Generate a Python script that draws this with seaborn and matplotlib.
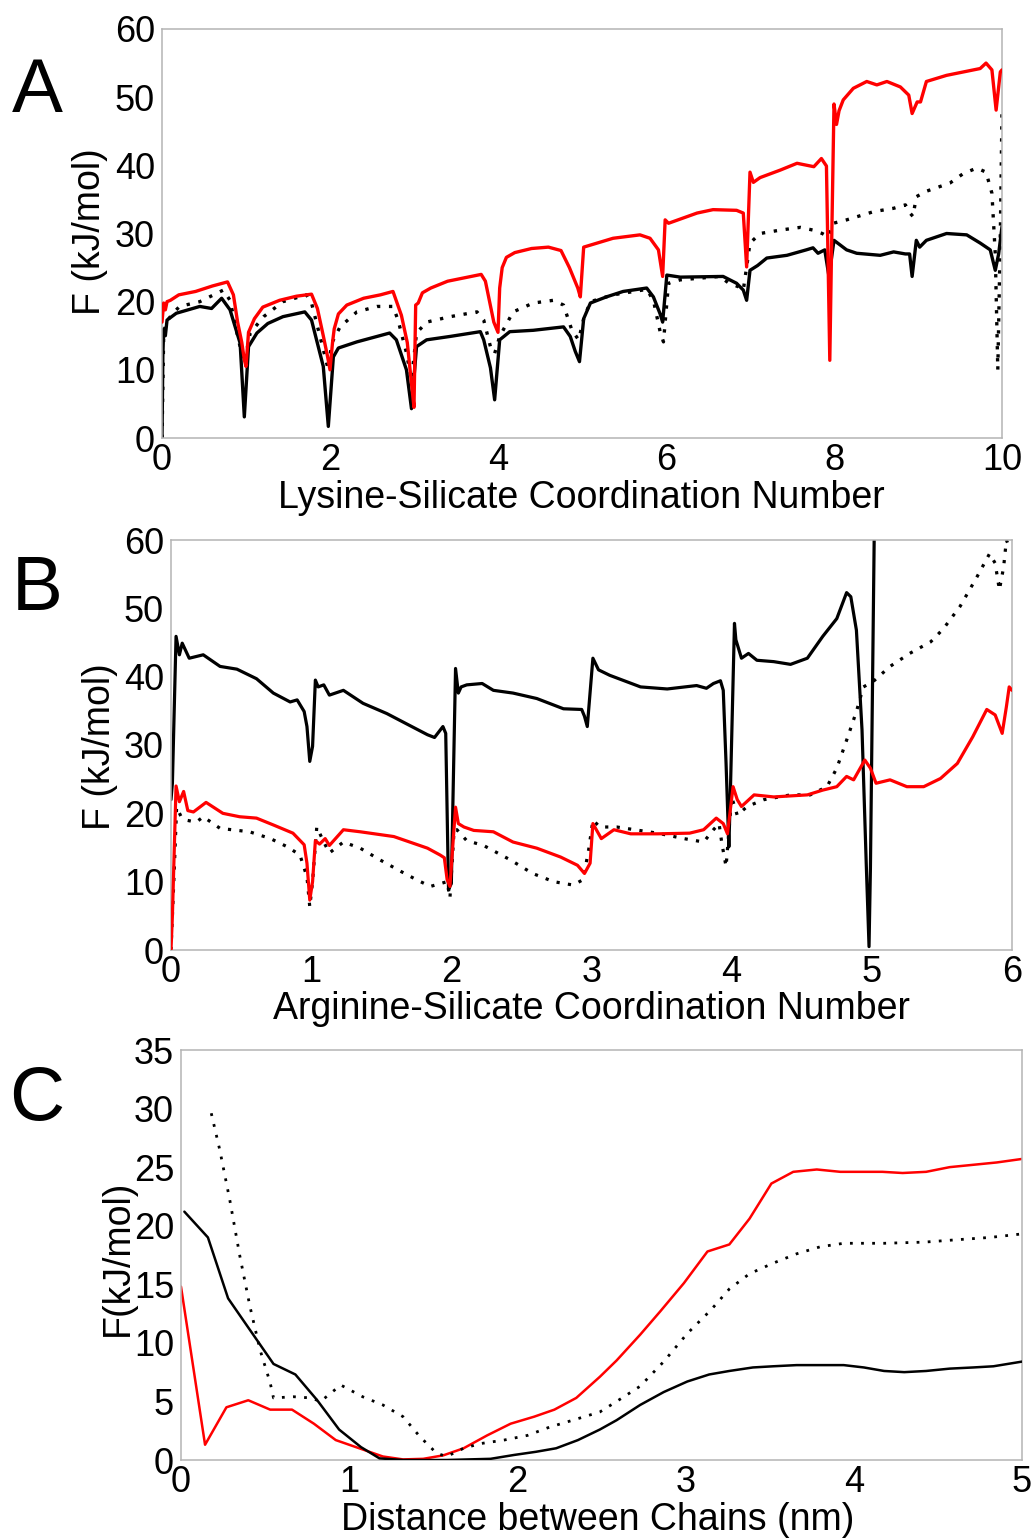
import matplotlib
matplotlib.use("Agg")
import matplotlib.pyplot as plt
import seaborn as sns

# ---------------- Panel A: Lysine-Silicate coordination ----------------
a_red_x = [0, 0.02, 0.04, 0.06, 0.1, 0.2, 0.4, 0.6, 0.78, 0.85,
           0.9, 0.95, 0.98, 1.0, 1.03, 1.1, 1.2, 1.4, 1.6, 1.78,
           1.85, 1.92, 1.97, 2.0, 2.03, 2.05, 2.1, 2.2, 2.4, 2.6,
           2.75, 2.85, 2.92, 2.97, 3.0, 3.02, 3.05, 3.1, 3.2, 3.4,
           3.6, 3.8, 3.85, 3.9, 3.95, 4.0, 4.02, 4.05, 4.1, 4.2,
           4.4, 4.6, 4.75, 4.85, 4.95, 4.98, 5.02, 5.37, 5.69, 5.81,
           5.91, 5.96, 5.99, 6.03, 6.37, 6.56, 6.84, 6.92, 6.96, 7.0,
           7.04, 7.12, 7.36, 7.56, 7.76, 7.85, 7.91, 7.95, 7.97, 8.0,
           8.03, 8.06, 8.11, 8.23, 8.39, 8.51, 8.63, 8.79, 8.89, 8.93,
           8.99, 9.03, 9.10, 9.34, 9.54, 9.74, 9.81, 9.88, 9.93, 9.98,
           10.0]
a_red_y = [17, 19.8, 18.8, 20, 20.2, 21, 21.5, 22.3, 22.9, 21,
           17, 14, 11.5, 10.5, 15.5, 17.5, 19.2, 20.2, 20.8, 21.1,
           19, 15, 12, 10, 14, 16, 18.2, 19.5, 20.5, 21,
           21.5, 18, 14, 8, 4.5, 19.5, 19.8, 21.3, 22, 23,
           23.5, 24, 23, 20, 17, 15.5, 22, 25, 26.5, 27.2,
           27.8, 28, 27.5, 25, 22, 20.7, 28, 29.3, 29.8, 29.3,
           27.6, 23.7, 32, 31.5, 33, 33.5, 33.4, 33, 25.1, 39,
           37.5, 38.2, 39.3, 40.3, 39.8, 41, 39.9, 11.4, 27, 49,
           46, 48, 49.6, 51.3, 52.3, 51.8, 52.3, 51.5, 50.3, 47.6,
           49.3, 49.3, 52.3, 53.2, 53.7, 54.2, 55, 54, 48.1, 53.7,
           54]

a_black_x = [0, 0.01, 0.02, 0.04, 0.06, 0.17, 0.45, 0.59, 0.71, 0.81,
             0.93, 0.98, 1.03, 1.13, 1.26, 1.44, 1.70, 1.78, 1.92, 1.98,
             2.04, 2.1, 2.32, 2.71, 2.79, 2.91, 2.97, 3.03, 3.15, 3.43,
             3.79, 3.83, 3.91, 3.96, 4.02, 4.14, 4.42, 4.78, 4.86, 4.92,
             4.97, 5.02, 5.1, 5.29, 5.49, 5.77, 5.85, 5.93, 5.96, 6.01,
             6.17, 6.68, 6.84, 6.92, 6.96, 7.0, 7.09, 7.20, 7.44, 7.67,
             7.75, 7.81, 7.89, 7.94, 8.0, 8.15, 8.27, 8.55, 8.71, 8.85,
             8.90, 8.93, 8.98, 9.02, 9.10, 9.34, 9.58, 9.74, 9.86, 9.92,
             9.96, 10.0]
a_black_y = [0, 12, 16, 15, 17.3, 18.3, 19.3, 19, 20.5, 18.8,
             13.9, 3.1, 13.4, 15.4, 16.8, 17.8, 18.5, 17.3, 10.5, 1.7,
             11.9, 13.2, 14.1, 15.4, 14.4, 10, 4.3, 13.4, 14.4, 14.9,
             15.6, 14.4, 10.3, 5.6, 14.4, 15.6, 15.8, 16.3, 14.9, 12.7,
             11.2, 17.5, 19.8, 20.7, 21.5, 22, 20.7, 18.2, 17, 23.9,
             23.6, 23.7, 22.7, 21.7, 20.2, 24.6, 25.3, 26.4, 26.8, 27.6,
             27.9, 27.1, 27.6, 23.7, 29, 27.6, 27.1, 26.8, 27.3, 27,
             27, 23.7, 29, 28, 29, 30, 29.8, 28.6, 27.6, 24.6,
             27, 31]

a_dot_x = [0, 0.02, 0.05, 0.13, 0.21, 0.45, 0.73, 0.81, 0.91, 0.98,
           1.05, 1.21, 1.44, 1.72, 1.78, 1.92, 1.98, 2.02, 2.12, 2.32,
           2.56, 2.75, 2.81, 2.91, 2.97, 3.03, 3.15, 3.43, 3.75, 3.83,
           3.91, 3.96, 4.02, 4.18, 4.42, 4.66, 4.78, 4.88, 4.96, 5.02,
           5.1, 5.37, 5.77, 5.85, 5.93, 5.97, 6.03, 6.17, 6.64, 6.75,
           6.86, 6.92, 6.96, 7.0, 7.12, 7.36, 7.6, 7.75, 7.86, 7.93,
           7.99, 8.15, 8.47, 8.71, 8.85, 8.89, 8.94, 8.98, 9.10, 9.38,
           9.54, 9.7, 9.81, 9.88, 9.92, 9.95, 9.98, 10.0]
a_dot_y = [0, 15, 17, 18.3, 19.3, 20, 21.7, 20.2, 14.4, 11,
           15.4, 17.8, 20, 21, 19.8, 13, 10, 13.9, 16.3, 18.5,
           19.3, 19.3, 17.3, 12.5, 8.5, 15.4, 17, 17.8, 18.5, 17.3,
           13.4, 12.4, 14.9, 18.5, 19.8, 20.2, 19.5, 15.8, 14.4, 17.5,
           20, 21, 21.8, 20.2, 15.6, 14.1, 22.7, 23.2, 23.7, 22.7,
           22.2, 21.7, 25.1, 28.6, 30, 30.5, 30.9, 30.5, 30, 29.5,
           31.5, 32, 33.2, 33.7, 34.2, 33.2, 32.5, 35.4, 36.2, 37.4,
           38.8, 39.6, 39, 35.9, 27, 10, 30, 48]

# ---------------- Panel B: Arginine-Silicate coordination ----------------
b_black_x = [0, 0.01, 0.036, 0.06, 0.08, 0.13, 0.23, 0.35, 0.47, 0.61,
             0.73, 0.85, 0.90, 0.95, 0.97, 0.99, 1.01, 1.03, 1.05, 1.09,
             1.13, 1.23, 1.37, 1.54, 1.68, 1.83, 1.88, 1.94, 1.96, 1.98,
             2.0, 2.03, 2.05, 2.07, 2.11, 2.22, 2.30, 2.44, 2.61, 2.80,
             2.93, 2.95, 2.97, 3.01, 3.05, 3.13, 3.35, 3.54, 3.75, 3.82,
             3.87, 3.92, 3.94, 3.96, 3.98, 3.99, 4.02, 4.03, 4.07, 4.12,
             4.18, 4.30, 4.42, 4.54, 4.65, 4.75, 4.82, 4.85, 4.89, 4.93,
             4.96, 4.98, 4.99, 5.02]
b_black_y = [22, 24.4, 45.9, 43.2, 44.9, 42.7, 43.2, 41.5, 41.1, 39.7,
             37.6, 36.3, 36.6, 34.9, 32.7, 27.6, 29.8, 39.5, 38.5, 38.8,
             37.3, 38, 36.1, 34.6, 33.1, 31.5, 31.1, 32.7, 31.7, 8.8,
             9.8, 41.2, 37.6, 38.5, 38.8, 39.0, 38, 37.6, 36.8, 35.3,
             35.2, 34.2, 32.7, 42.7, 41, 40.2, 38.5, 38.2, 38.7, 38.3,
             39, 39.4, 38, 27.3, 15.1, 22.4, 47.8, 45.4, 42.7, 43.4,
             42.4, 42.2, 41.8, 42.7, 45.9, 48.5, 52.3, 51.7, 46.8, 32.2,
             12.7, 0.5, 12, 66]

b_red_x = [0, 0.01, 0.036, 0.06, 0.09, 0.12, 0.16, 0.25, 0.37, 0.49,
           0.61, 0.73, 0.87, 0.95, 0.97, 0.99, 1.01, 1.03, 1.06, 1.10,
           1.13, 1.23, 1.35, 1.59, 1.83, 1.92, 1.95, 1.97, 1.99, 2.03,
           2.05, 2.09, 2.16, 2.30, 2.44, 2.61, 2.78, 2.90, 2.95, 2.99,
           3.01, 3.07, 3.16, 3.28, 3.47, 3.70, 3.80, 3.89, 3.94, 3.97,
           4.01, 4.04, 4.07, 4.16, 4.30, 4.54, 4.65, 4.75, 4.82, 4.87,
           4.95, 4.99, 5.03, 5.13, 5.25, 5.37, 5.49, 5.61, 5.72, 5.82,
           5.88, 5.93, 5.96, 5.98, 6.0]
b_red_y = [0, 5, 24, 21.7, 23.2, 20.4, 20.2, 21.6, 20, 19.5,
           19.3, 18.3, 17.1, 15.4, 12.7, 7.3, 10, 16, 15.5, 16.3,
           15.3, 17.6, 17.3, 16.6, 14.9, 13.9, 13.5, 10.3, 9.3, 20.9,
           18.5, 18, 17.5, 17.3, 15.8, 14.9, 13.6, 12.4, 11.2, 12.7,
           18.5, 16.3, 17.6, 17, 17, 17.1, 17.6, 19.3, 18.5, 17,
           23.9, 22, 21, 22.7, 22.4, 22.7, 23.4, 23.9, 25.4, 24.9,
           27.8, 26.6, 24.4, 24.9, 23.9, 23.9, 25.1, 27.3, 31.2, 35.2,
           34.4, 31.7, 35.6, 38.5, 38]

b_dot_x = [0, 0.02, 0.04, 0.07, 0.11, 0.18, 0.23, 0.35, 0.56, 0.71,
           0.83, 0.92, 0.97, 0.99, 1.01, 1.04, 1.09, 1.13, 1.23, 1.35,
           1.49, 1.64, 1.75, 1.85, 1.97, 1.99, 2.02, 2.04, 2.11, 2.23,
           2.42, 2.58, 2.73, 2.87, 2.94, 2.98, 3.01, 3.06, 3.18, 3.47,
           3.66, 3.80, 3.87, 3.91, 3.93, 3.96, 4.0, 4.04, 4.11, 4.23,
           4.42, 4.56, 4.68, 4.75, 4.82, 4.89, 4.94, 5.01, 5.13, 5.27,
           5.42, 5.51, 5.63, 5.75, 5.84, 5.88, 5.91, 5.94, 5.96, 5.99]
b_dot_y = [0, 10, 20.9, 19.6, 19, 18.7, 19.5, 17.8, 17.3, 16.3,
           15.1, 13.9, 10.7, 6.3, 10, 18, 15.8, 14.2, 15.8, 14.9,
           13.2, 11.5, 10.3, 9.3, 10, 7.6, 17.6, 17.6, 16, 15.3,
           13.2, 11.2, 10, 9.5, 10.3, 14.7, 19, 18, 18, 17.1,
           16.3, 15.8, 17.6, 18.5, 15.6, 12.2, 22.4, 19.7, 21, 22,
           22.7, 22.7, 23.9, 26.6, 30.7, 34.9, 38.5, 39.3, 41.5, 43.4,
           45.1, 47, 50.3, 54.6, 58, 56.6, 52.7, 56, 60, 58.5]

# ---------------- Panel C: distance between chains ----------------
c_red_x = [0, 0.143, 0.27, 0.40, 0.53, 0.66, 0.79, 0.92, 1.04, 1.2,
           1.32, 1.44, 1.56, 1.68, 1.82, 1.96, 2.1, 2.22, 2.35, 2.49,
           2.59, 2.73, 2.85, 2.99, 3.13, 3.26, 3.38, 3.51, 3.64, 3.78,
           3.92, 4.17, 4.29, 4.43, 4.57, 4.71, 4.85, 5.0]
c_red_y = [14.8, 1.3, 4.5, 5.1, 4.3, 4.3, 3.1, 1.7, 1.1, 0.3,
           0.05, 0.1, 0.4, 1.0, 2.1, 3.1, 3.7, 4.3, 5.3, 7.1,
           8.5, 10.7, 12.7, 15.1, 17.8, 18.4, 20.6, 23.6, 24.6, 24.8,
           24.6, 24.6, 24.5, 24.6, 25, 25.2, 25.4, 25.7]

c_black_x = [0.02, 0.16, 0.28, 0.41, 0.55, 0.68, 0.81, 0.94, 1.07, 1.18,
             1.32, 1.58, 1.84, 1.98, 2.11, 2.23, 2.36, 2.49, 2.59, 2.73,
             2.87, 3.01, 3.14, 3.26, 3.40, 3.52, 3.66, 3.80, 3.94, 4.06,
             4.18, 4.30, 4.43, 4.57, 4.71, 4.83, 5.0]
c_black_y = [21.2, 19.0, 13.8, 11.1, 8.2, 7.3, 5.1, 2.6, 1.1, 0.14,
             0, 0, 0.1, 0.43, 0.7, 1.0, 1.7, 2.6, 3.4, 4.7,
             5.8, 6.7, 7.3, 7.6, 7.9, 8.0, 8.1, 8.1, 8.1, 7.9,
             7.6, 7.5, 7.6, 7.8, 7.9, 8.0, 8.4]

c_dot_x = [0.18, 0.23, 0.29, 0.35, 0.41, 0.47, 0.53, 0.55, 0.67, 0.77,
           0.83, 0.95, 1.08, 1.2, 1.32, 1.42, 1.52, 1.58, 1.68, 1.78,
           1.92, 2.06, 2.19, 2.33, 2.49, 2.59, 2.73, 2.87, 3.01, 3.15,
           3.26, 3.38, 3.52, 3.66, 3.80, 3.94, 4.18, 4.42, 4.61, 4.81,
           5.0]
c_dot_y = [29.6, 26.5, 22.2, 17.4, 13.1, 9.4, 6.6, 5.3, 5.4, 5.3,
           5.0, 6.4, 5.4, 4.7, 3.7, 2.0, 0.57, 0.3, 1.0, 1.4,
           1.7, 2.1, 2.8, 3.4, 4.1, 5.0, 6.3, 8.4, 10.8, 12.8,
           14.6, 15.9, 16.8, 17.6, 18.2, 18.5, 18.5, 18.6, 18.8, 19.0,
           19.3]

# ---------------- Text ----------------
panel_letters = ["A", "B", "C"]
x_labels = ["Lysine-Silicate Coordination Number",
            "Arginine-Silicate Coordination Number",
            "Distance between Chains (nm)"]
y_labels = ["F (kJ/mol)", "F (kJ/mol)", "F(kJ/mol)"]
a_xticks = [0, 2, 4, 6, 8, 10]
a_yticks = [0, 10, 20, 30, 40, 50, 60]
b_xticks = [0, 1, 2, 3, 4, 5, 6]
b_yticks = [0, 10, 20, 30, 40, 50, 60]
c_xticks = [0, 1, 2, 3, 4, 5]
c_yticks = [0, 5, 10, 15, 20, 25, 30, 35]

# ---------------- Style ----------------
sns.set_theme(style="white")
plt.rcParams["font.family"] = ["Liberation Sans", "DejaVu Sans"]

W, H = 1036, 1539
fig = plt.figure(figsize=(W / 100, H / 100), dpi=100)


def rect(l, t, r, b):
    return [l / W, 1 - b / H, (r - l) / W, (b - t) / H]


ax_a = fig.add_axes(rect(162, 29, 1002, 438))
ax_b = fig.add_axes(rect(171, 540, 1012, 950))
ax_c = fig.add_axes(rect(181, 1050, 1022, 1460))

dots_a = (0, (1, 2.6))
dots_c = (0, (1, 3.0))


def draw(ax, x, y, color, lw, ls="-", z=2):
    sns.lineplot(x=x, y=y, ax=ax, color=color, linewidth=lw, linestyle=ls,
                 estimator=None, sort=False, zorder=z)


draw(ax_a, a_black_x, a_black_y, "black", 2.4)
draw(ax_a, a_dot_x, a_dot_y, "black", 2.4, dots_a)
draw(ax_a, a_red_x, a_red_y, "#ff0000", 2.4, z=3)

draw(ax_b, b_black_x, b_black_y, "black", 2.3)
draw(ax_b, b_dot_x, b_dot_y, "black", 2.3, dots_a)
draw(ax_b, b_red_x, b_red_y, "#ff0000", 2.3, z=3)

draw(ax_c, c_red_x, c_red_y, "#ff0000", 1.8)
draw(ax_c, c_dot_x, c_dot_y, "black", 2.0, dots_c)
draw(ax_c, c_black_x, c_black_y, "black", 1.8, z=3)

setup = [
    (ax_a, (0, 10), (0, 60), a_xticks, a_yticks),
    (ax_b, (0, 6), (0, 60), b_xticks, b_yticks),
    (ax_c, (0, 5), (0, 35), c_xticks, c_yticks),
]
for ax, xl, yl, xt, yt in setup:
    ax.set_xlim(*xl)
    ax.set_ylim(*yl)
    ax.set_xticks(xt)
    ax.set_yticks(yt)
    ax.set_xticklabels([str(v) for v in xt])
    ax.set_yticklabels([str(v) for v in yt])
    for sp in ax.spines.values():
        sp.set_color("#b4b4b4")
        sp.set_linewidth(1.1)
    ax.tick_params(axis="both", direction="out", length=2.5, width=1,
                   color="#a0a0a0", labelsize=26, labelcolor="black")
    ax.tick_params(axis="x", pad=1)
    ax.tick_params(axis="y", pad=2.5)
    ax.grid(False)

# axis labels (positions in figure pixels)
xlab_pos = [(581.5, 508), (591, 1019), (597.5, 1530)]
ylab_pos = [(90, 232), (100, 747), (118, 1258)]
for ax, xt, yt, (xx, xy), (yx, yy) in zip([ax_a, ax_b, ax_c], x_labels, y_labels,
                                          xlab_pos, ylab_pos):
    ax.set_xlabel(xt, fontsize=27, color="black")
    ax.xaxis.set_label_coords(xx / W, 1 - xy / H, transform=fig.transFigure)
    ax.xaxis.label.set_va("baseline")
    ax.set_ylabel(yt, fontsize=27, color="black")
    ax.yaxis.set_label_coords(yx / W, 1 - yy / H, transform=fig.transFigure)
    ax.yaxis.label.set_va("center")
    ax.yaxis.label.set_ha("center")

letter_pos = [(37, 112), (37, 610), (37, 1120)]
for letter, (lx, ly) in zip(panel_letters, letter_pos):
    fig.text(lx / W, 1 - ly / H, letter, fontsize=55, ha="center",
             va="baseline", color="black")

fig.savefig("out.png", dpi=100)
